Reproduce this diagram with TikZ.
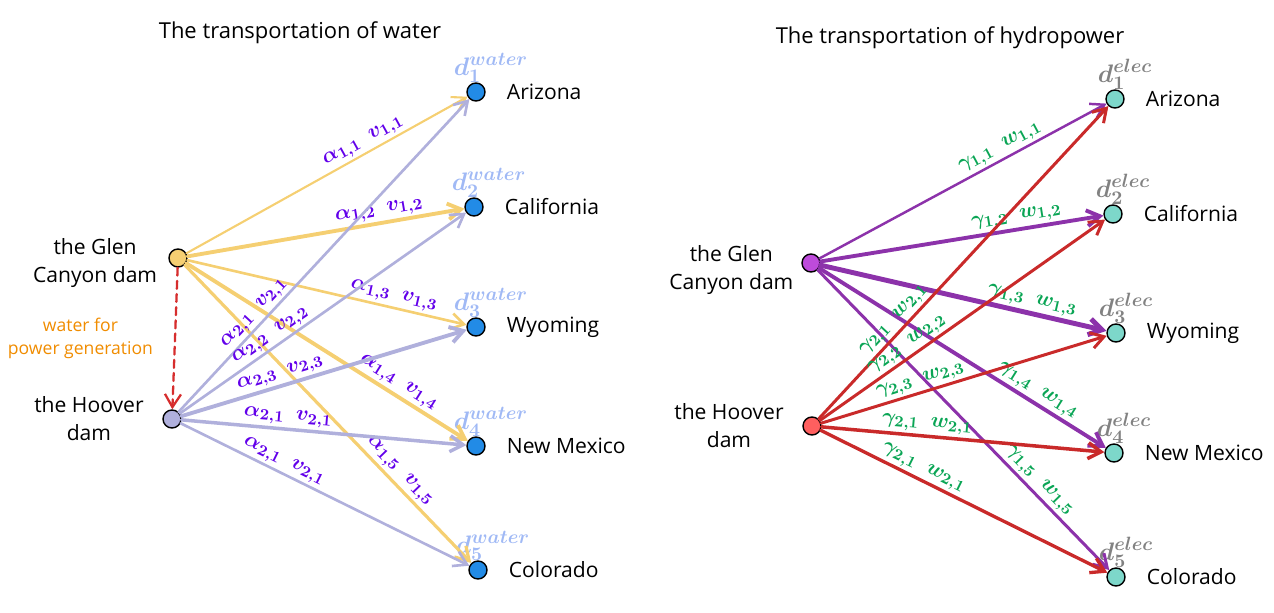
\documentclass[tikz,border=0pt]{standalone}
\usepackage{amsmath, amssymb}
\usepackage{fontspec}
\setmainfont{Open Sans}
\usetikzlibrary{arrows.meta, positioning}

\definecolor{wateryellow}{RGB}{245,207,114}
\definecolor{hooverlav}{RGB}{176,176,220}
\definecolor{destblue}{RGB}{34,139,230}
\definecolor{dwater}{RGB}{160,185,245}
\definecolor{labpurple}{RGB}{98,0,234}
\definecolor{noteorange}{RGB}{240,140,0}
\definecolor{dashred}{RGB}{214,45,45}
\definecolor{elecpurple}{RGB}{140,50,170}
\definecolor{glenpurple}{RGB}{190,75,219}
\definecolor{hooverred}{RGB}{255,95,95}
\definecolor{elecred}{RGB}{201,42,42}
\definecolor{destteal}{RGB}{125,215,202}
\definecolor{labgreen}{RGB}{10,165,85}
\definecolor{delec}{RGB}{130,130,130}

\begin{document}
\begin{tikzpicture}[x=0.02cm, y=-0.02cm,
  dot/.style={circle, draw=black, line width=0.8pt, minimum size=0.36cm, inner sep=0pt},
  title/.style={font=\fontsize{12.5}{15}\selectfont},
  place/.style={font=\fontsize{12}{15}\selectfont},
  dam/.style={font=\fontsize{12}{16}\selectfont, align=center},
  note/.style={font=\fontsize{10}{13}\selectfont, align=center, text=noteorange},
  dlab/.style={font=\boldmath\fontsize{15}{17}\selectfont, inner sep=0.5pt},
  flow/.style={-{Straight Barb[length=2.6mm, width=3.2mm]}, line cap=round},
  lbl/.style={sloped, above, inner sep=1.2pt, font=\boldmath\fontsize{12.5}{14}\selectfont},
  wlbl/.style={lbl, text=labpurple},
  elbl/.style={lbl, text=labgreen}]
\useasboundingbox (0,0) rectangle (1274,612);

% water
\node[title] (titleW) at (300,33) {The transportation of water};
\node[dot, fill=wateryellow] (glenW) at (178,258) {};
\node[dot, fill=hooverlav] (hooverW) at (172,419) {};
\node[dam, left=0.1cm of glenW, yshift=-0.1cm] (glenWtxt) {the Glen\\Canyon dam};
\node[dam, left=0.25cm of hooverW] (hooverWtxt) {the Hoover\\dam};
\foreach \i/\x/\y/\st in {1/476/92/Arizona, 2/474/207/California, 3/476/327/Wyoming, 4/476/446/New Mexico, 5/478/570/Colorado}{
  \node[dot, fill=destblue] (w\i) at (\x,\y) {};
  \node[place, right=0.3cm of w\i] (w\i name) {\st};
  \node[dlab, text=dwater, above=-1pt of w\i, xshift=0.3cm] (w\i d) {$d_{\i}^{water}$};
}

\draw[flow, dashred, line width=1.3pt, dash pattern=on 4.5pt off 3pt] (glenW) -- (hooverW)
  node[note, midway, left=0.3cm] (noteW) {water for\\power generation};

\draw[flow, wateryellow, line width=1.2pt] (glenW) -- (w1) node[wlbl, pos=0.65] {$\alpha_{1,1}\ \ v_{1,1}$};
\draw[flow, wateryellow, line width=2.2pt] (glenW) -- (w2) node[wlbl, pos=0.70] {$\alpha_{1,2}\ \ v_{1,2}$};
\draw[flow, wateryellow, line width=1.5pt] (glenW) -- (w3) node[wlbl, pos=0.73] {$\alpha_{1,3}\ \ v_{1,3}$};
\draw[flow, wateryellow, line width=2.2pt] (glenW) -- (w4) node[wlbl, pos=0.73] {$\alpha_{1,4}\ \ v_{1,4}$};
\draw[flow, wateryellow, line width=1.8pt] (glenW) -- (w5) node[wlbl, pos=0.72] {$\alpha_{1,5}\ \ v_{1,5}$};

\draw[flow, hooverlav, line width=1.5pt] (hooverW) -- (w1) node[wlbl, pos=0.29] {$\alpha_{2,1}\ \ v_{2,1}$};
\draw[flow, hooverlav, line width=1.5pt] (hooverW) -- (w2) node[wlbl, pos=0.34] {$\alpha_{2,2}\ \ v_{2,2}$};
\draw[flow, hooverlav, line width=2.2pt] (hooverW) -- (w3) node[wlbl, pos=0.36] {$\alpha_{2,3}\ \ v_{2,3}$};
\draw[flow, hooverlav, line width=2pt] (hooverW) -- (w4) node[wlbl, pos=0.37] {$\alpha_{2,1}\ \ v_{2,1}$};
\draw[flow, hooverlav, line width=1.5pt] (hooverW) -- (w5) node[wlbl, pos=0.34] {$\alpha_{2,1}\ \ v_{2,1}$};

% hydropower
\node[title] (titleE) at (950,38) {The transportation of hydropower};
\node[dot, fill=glenpurple] (glenE) at (811,263) {};
\node[dot, fill=hooverred] (hooverE) at (812,426) {};
\node[dam, left=1pt of glenE, yshift=-0.14cm] (glenEtxt) {the Glen\\Canyon dam};
\node[dam, left=0.25cm of hooverE] (hooverEtxt) {the Hoover\\dam};
\foreach \i/\x/\y/\st in {1/1115/99/Arizona, 2/1113/214/California, 3/1116/333/Wyoming, 4/1114/453/New Mexico, 5/1116/577/Colorado}{
  \node[dot, fill=destteal] (e\i) at (\x,\y) {};
  \node[place, right=0.3cm of e\i] (e\i name) {\st};
  \node[dlab, text=delec, above=-1pt of e\i, xshift=0.2cm] (e\i d) {$d_{\i}^{elec}$};
}

\draw[flow, elecpurple, line width=1.4pt] (glenE) -- (e1) node[elbl, pos=0.65] {$\gamma_{1,1}\ \ w_{1,1}$};
\draw[flow, elecpurple, line width=2.2pt] (glenE) -- (e2) node[elbl, pos=0.70] {$\gamma_{1,2}\ \ w_{1,2}$};
\draw[flow, elecpurple, line width=2.8pt] (glenE) -- (e3) node[elbl, pos=0.73] {$\gamma_{1,3}\ \ w_{1,3}$};
\draw[flow, elecpurple, line width=2.2pt] (glenE) -- (e4) node[elbl, pos=0.74] {$\gamma_{1,4}\ \ w_{1,4}$};
\draw[flow, elecpurple, line width=1.7pt] (glenE) -- (e5) node[elbl, pos=0.73] {$\gamma_{1,5}\ \ w_{1,5}$};

\draw[flow, elecred, line width=1.7pt] (hooverE) -- (e1) node[elbl, pos=0.29] {$\gamma_{2,1}\ \ w_{2,1}$};
\draw[flow, elecred, line width=1.7pt] (hooverE) -- (e2) node[elbl, pos=0.33] {$\gamma_{2,2}\ \ w_{2,2}$};
\draw[flow, elecred, line width=1.7pt] (hooverE) -- (e3) node[elbl, pos=0.36] {$\gamma_{2,3}\ \ w_{2,3}$};
\draw[flow, elecred, line width=2pt] (hooverE) -- (e4) node[elbl, pos=0.37] {$\gamma_{2,1}\ \ w_{2,1}$};
\draw[flow, elecred, line width=1.9pt] (hooverE) -- (e5) node[elbl, pos=0.34] {$\gamma_{2,1}\ \ w_{2,1}$};
\end{tikzpicture}
\end{document}
